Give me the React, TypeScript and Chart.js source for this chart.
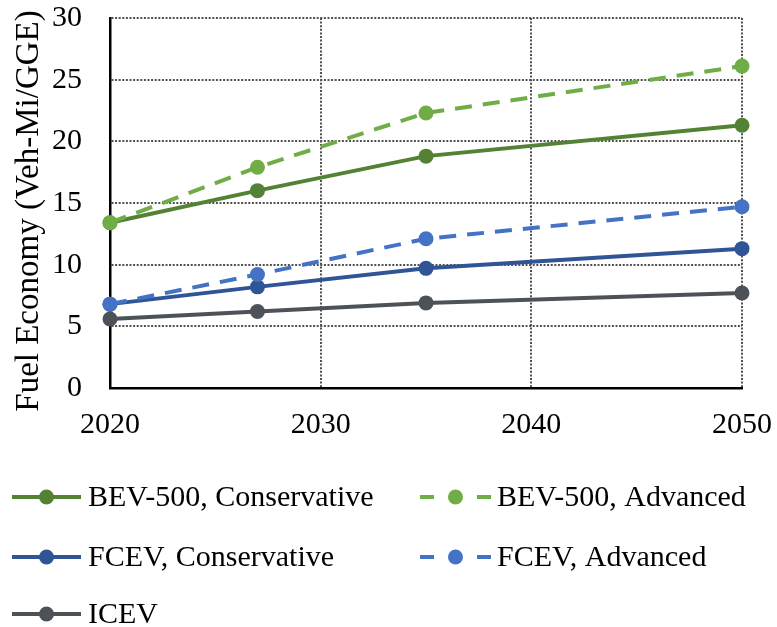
import React, { useEffect, useRef } from "react";
import { Chart, registerables } from "chart.js";

Chart.register(...registerables);

const years = [2020, 2027, 2035, 2050];
const bevConservative = [13.4, 16.0, 18.8, 21.3];
const bevAdvanced = [13.4, 17.9, 22.3, 26.1];
const fcevConservative = [6.8, 8.2, 9.7, 11.3];
const fcevAdvanced = [6.8, 9.2, 12.1, 14.7];
const icev = [5.6, 6.2, 6.9, 7.7];

const yTicks = [0, 5, 10, 15, 20, 25, 30];
const xTicks = [2020, 2030, 2040, 2050];
const yTitle = "Fuel Economy (Veh-Mi/GGE)";

const FONT = "'Liberation Serif', 'Times New Roman', serif";

const series = [
  { label: "BEV-500, Conservative", values: bevConservative, color: "#548235", dashed: false, order: 2 },
  { label: "BEV-500, Advanced", values: bevAdvanced, color: "#70AD47", dashed: true, order: 0 },
  { label: "FCEV, Conservative", values: fcevConservative, color: "#2F5597", dashed: false, order: 3 },
  { label: "FCEV, Advanced", values: fcevAdvanced, color: "#4472C4", dashed: true, order: 1 },
  { label: "ICEV", values: icev, color: "#4D5259", dashed: false, order: 4 },
];

const DASH = [17, 11];

const titlePlugin = {
  id: "yTitle",
  afterDraw(chart: any) {
    const ctx = chart.ctx as CanvasRenderingContext2D;
    ctx.save();
    ctx.translate(29, 211);
    ctx.rotate(-Math.PI / 2);
    ctx.fillStyle = "#000";
    ctx.font = `33px ${FONT}`;
    ctx.textAlign = "center";
    ctx.textBaseline = "middle";
    ctx.fillText(yTitle, 0, 0);
    ctx.restore();
  },
};

const legendPlugin = {
  id: "customLegend",
  afterDraw(chart: any) {
    const ctx = chart.ctx as CanvasRenderingContext2D;
    const cols = [
      { lineStart: 12, lineEnd: 81, text: 88 },
      { lineStart: 420, lineEnd: 491, text: 497 },
    ];
    const rows = [497, 557, 614];
    ctx.save();
    series.forEach((s, i) => {
      const col = cols[i % 2];
      const y = rows[Math.floor(i / 2)];
      const cx = (col.lineStart + col.lineEnd) / 2;
      ctx.strokeStyle = s.color;
      ctx.lineWidth = 4;
      ctx.lineCap = "butt";
      ctx.beginPath();
      if (s.dashed) {
        ctx.moveTo(col.lineStart, y);
        ctx.lineTo(col.lineStart + 14, y);
        ctx.moveTo(col.lineEnd - 14, y);
        ctx.lineTo(col.lineEnd, y);
      } else {
        ctx.moveTo(col.lineStart, y);
        ctx.lineTo(col.lineEnd, y);
      }
      ctx.stroke();
      ctx.fillStyle = s.color;
      ctx.beginPath();
      ctx.arc(cx, y, 7.5, 0, Math.PI * 2);
      ctx.fill();
      ctx.fillStyle = "#000";
      ctx.font = `30px ${FONT}`;
      ctx.textBaseline = "middle";
      ctx.textAlign = "left";
      ctx.fillText(s.label, col.text, y + 1);
    });
    ctx.restore();
  },
};

export default function App() {
  const ref = useRef<HTMLCanvasElement | null>(null);

  useEffect(() => {
    if (!ref.current) return;
    const chart = new Chart(ref.current, {
      type: "line",
      data: {
        datasets: series.map((s) => ({
          label: s.label,
          data: years.map((x, i) => ({ x, y: s.values[i] })),
          borderColor: s.color,
          backgroundColor: s.color,
          pointBackgroundColor: s.color,
          pointBorderWidth: 0,
          pointRadius: 7.5,
          borderWidth: 4,
          borderDash: s.dashed ? DASH : [],
          borderCapStyle: "butt",
          tension: 0,
          clip: false as any,
          order: s.order,
        })),
      },
      options: {
        animation: false,
        responsive: false,
        maintainAspectRatio: false,
        layout: { padding: { left: 0, right: 35, top: 18, bottom: 189 } },
        plugins: {
          legend: { display: false },
          tooltip: { enabled: false },
        },
        scales: {
          x: {
            type: "linear",
            min: 2020,
            max: 2050,
            afterBuildTicks: (scale: any) => {
              scale.ticks = xTicks.map((v) => ({ value: v }));
            },
            afterFit: (scale: any) => {
              scale.height = 50;
              scale.paddingLeft = 0;
              scale.paddingRight = 0;
              scale.paddingTop = 0;
              scale.paddingBottom = 0;
            },
            ticks: {
              color: "#000",
              font: { family: FONT, size: 30 },
              padding: 19,
              maxRotation: 0,
              callback: (v: any) => String(v),
            },
            grid: { color: "#505050", lineWidth: 2, drawTicks: false },
            border: { display: true, color: "#000", width: 2.5, dash: [2, 1.6] },
          },
          y: {
            min: 0,
            max: 30,
            afterBuildTicks: (scale: any) => {
              scale.ticks = yTicks.map((v) => ({ value: v }));
            },
            afterFit: (scale: any) => {
              scale.width = 110;
              scale.paddingLeft = 0;
              scale.paddingRight = 0;
              scale.paddingTop = 0;
              scale.paddingBottom = 0;
            },
            ticks: {
              color: "#000",
              font: { family: FONT, size: 30 },
              padding: 28,
              callback: (v: any) => String(v),
            },
            grid: { color: "#505050", lineWidth: 2, drawTicks: false },
            border: { display: true, color: "#000", width: 2.5, dash: [2, 1.6] },
            title: { display: false },
          },
        },
      },
      plugins: [legendPlugin, titlePlugin],
    });
    return () => chart.destroy();
  }, []);

  return (
    <div style={{ position: "fixed", left: 0, top: 0, width: 777, height: 627, background: "#fff" }}>
      <canvas ref={ref} width={777} height={627} style={{ width: 777, height: 627, display: "block" }} />
    </div>
  );
}
